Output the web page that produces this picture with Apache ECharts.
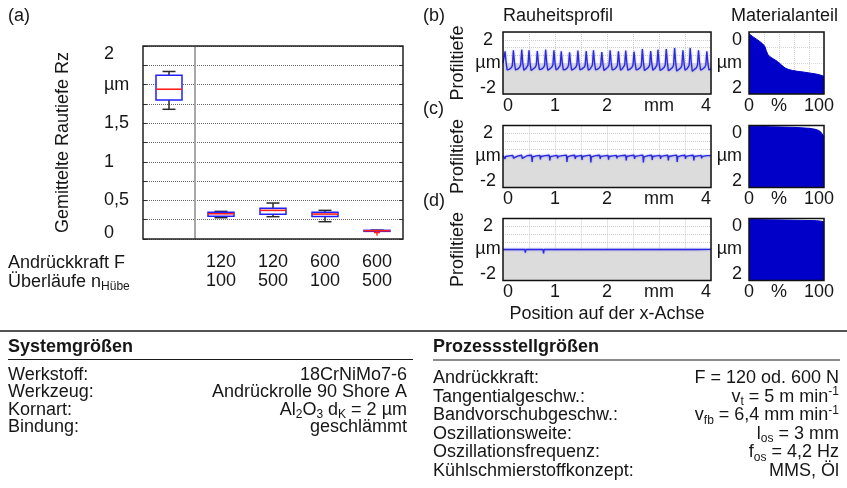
<!DOCTYPE html>
<html>
<head>
<meta charset="utf-8">
<script src="https://cdn.jsdelivr.net/npm/echarts@6/dist/echarts.min.js"></script>
<style>
html,body{margin:0;padding:0;background:#fff}
#chart{width:847px;height:488px}
</style>
</head>
<body>
<div id="chart"></div>
<script>
// ---- Rz box plot (a) ----
const groups   = ['Ausgang', 'F120 n100', 'F120 n500', 'F600 n100', 'F600 n500'];
const forceF   = ['', '120', '120', '600', '600'];
const strokesN = ['', '100', '500', '100', '500'];
const rzMin = [1.68, 0.276, 0.289, 0.224, 0.100];
const rzQ1  = [1.80, 0.294, 0.319, 0.293, 0.102];
const rzMed = [1.94, 0.327, 0.371, 0.323, 0.107];
const rzQ3  = [2.12, 0.345, 0.397, 0.345, 0.112];
const rzMax = [2.17, 0.358, 0.466, 0.371, 0.115];
const rzOutliers = [[4, 0.082]];
const rzTickText = {0: '{b|0}', 0.5: '0,5', 1: '1', 1.5: '1,5', 2: 'µm', 2.5: '{t|2}'};

// ---- roughness profiles (b)-(d), position in mm, height in µm ----
const profileStep = 0.02;
const profileB = [
  0.00,-0.12,0.75,0.02,-0.44,-0.47,-0.41,-0.37,-0.30,-0.16,
  0.82,0.05,-0.45,-0.43,-0.40,-0.38,-0.28,-0.12,0.86,0.04,
  -0.46,-0.42,-0.36,-0.31,-0.14,0.82,0.00,-0.48,-0.44,-0.39,
  -0.35,-0.27,-0.13,0.77,0.03,-0.43,-0.46,-0.40,-0.34,-0.29,
  -0.15,0.86,0.06,-0.47,-0.42,-0.38,-0.36,-0.26,-0.11,0.82,
  0.01,-0.45,-0.41,-0.35,-0.30,-0.15,0.75,0.02,-0.44,-0.47,
  -0.42,-0.37,-0.30,-0.14,0.69,-0.02,-0.46,-0.43,-0.39,-0.33,
  -0.27,-0.12,0.80,0.04,-0.45,-0.44,-0.38,-0.35,-0.28,-0.15,
  0.77,0.02,-0.47,-0.42,-0.37,-0.31,-0.13,0.82,0.05,-0.44,
  -0.46,-0.40,-0.36,-0.29,-0.14,0.71,0.00,-0.48,-0.43,-0.38,
  -0.34,-0.26,-0.12,0.82,0.03,-0.45,-0.44,-0.41,-0.36,-0.28,
  -0.15,0.75,0.01,-0.46,-0.42,-0.35,-0.30,-0.13,0.80,0.04,
  -0.47,-0.45,-0.40,-0.34,-0.27,-0.14,0.73,0.02,-0.44,-0.46,
  -0.41,-0.37,-0.29,-0.16,0.90,0.06,-0.49,-0.44,-0.39,-0.35,
  -0.27,-0.12,0.77,0.02,-0.46,-0.43,-0.36,-0.31,-0.14,0.86,
  0.05,-0.48,-0.45,-0.40,-0.35,-0.28,-0.13,0.90,0.07,-0.50,
  -0.46,-0.41,-0.36,-0.29,-0.15,0.97,0.08,-0.52,-0.47,-0.42,
  -0.37,-0.30,-0.14,0.82,0.03,-0.46,-0.43,-0.37,-0.32,-0.15,
  0.97,0.06,-0.53,-0.48,-0.42,-0.38,-0.30,-0.13,0.82,0.03,
  -0.47,-0.44,-0.39,-0.35,-0.28,-0.14,0.75,0.02,-0.45,-0.42,
  -0.38
];
const profileC = [
  [0,0.05],[0.03,0.06],[0.04,-0.15],[0.05,0.0],[0.12,0.04],[0.19,0.07],[0.20,-0.10],[0.21,0.01],
  [0.29,0.04],[0.36,0.08],[0.37,-0.12],[0.38,0.0],[0.46,0.05],[0.55,0.08],[0.56,-0.35],[0.57,-0.02],
  [0.64,0.04],[0.71,0.07],[0.72,-0.18],[0.73,0.0],[0.81,0.05],[0.89,0.08],[0.90,-0.25],[0.91,-0.01],
  [0.98,0.04],[1.04,0.07],[1.05,-0.12],[1.06,0.01],[1.14,0.05],[1.22,0.09],[1.23,-0.35],[1.24,-0.02],
  [1.31,0.05],[1.38,0.08],[1.39,-0.15],[1.40,0.0],[1.46,0.04],[1.51,0.07],[1.52,-0.22],[1.53,0.0],
  [1.61,0.05],[1.68,0.09],[1.69,-0.38],[1.70,-0.02],[1.78,0.05],[1.86,0.08],[1.87,-0.15],[1.88,0.01],
  [1.95,0.04],[2.02,0.07],[2.03,-0.20],[2.04,0.0],[2.11,0.04],[2.18,0.07],[2.19,-0.12],[2.20,0.01],
  [2.28,0.05],[2.36,0.08],[2.37,-0.25],[2.38,0.0],[2.45,0.05],[2.52,0.08],[2.53,-0.15],[2.54,0.01],
  [2.62,0.05],[2.69,0.09],[2.70,-0.38],[2.71,-0.02],[2.79,0.05],[2.86,0.08],[2.87,-0.22],[2.88,0.0],
  [2.95,0.04],[3.02,0.07],[3.03,-0.15],[3.04,0.01],[3.11,0.05],[3.17,0.08],[3.18,-0.25],[3.19,0.0],
  [3.27,0.05],[3.34,0.09],[3.35,-0.35],[3.36,-0.02],[3.43,0.05],[3.50,0.08],[3.51,-0.15],[3.52,0.01],
  [3.59,0.05],[3.66,0.08],[3.67,-0.25],[3.68,0.0],[3.75,0.04],[3.81,0.07],[3.82,-0.12],[3.83,0.01],
  [3.92,0.05],[4.0,0.06]
];
const profileD = [
  [0,0.0],[0.20,0.01],[0.42,0.0],[0.43,-0.20],[0.44,0.0],[0.77,0.01],[0.78,-0.25],[0.79,0.0],
  [1.20,0.01],[1.60,0.0],[1.62,-0.05],[1.64,0.0],[2.40,0.01],[3.00,0.0],[3.02,-0.06],[3.04,0.0],
  [3.70,0.01],[3.72,-0.05],[3.74,0.0],[4.0,0.01]
];
const profileXText = {0: '{l|0}', 1: '1', 2: '2', 3: 'mm', 4: '{r|4}'};
const profileYText = {2: '{t|2}', 0: 'µm', '-2': '{b|-2}'};

// ---- material ratio curves: [ratio %, depth µm] ----
const abbottB = [[0,0.06],[5,0.15],[10,0.23],[14,0.30],[18,0.38],[21,0.46],[23,0.60],[25,0.72],[28,0.80],
  [32,0.86],[38,0.95],[43,1.06],[48,1.16],[53,1.21],[58,1.24],[65,1.27],[72,1.29],[80,1.32],[88,1.35],[94,1.38],[100,1.43]];
const abbottC = [[0,0.02],[30,0.04],[60,0.06],[80,0.09],[88,0.12],[93,0.16],[96,0.22],[98,0.28],[100,0.36]];
const abbottD = [[0,0.03],[50,0.05],[90,0.07],[97,0.09],[100,0.11]];
const abbottXText = {0: '0', 40: '%', 100: '{r|100}'};
const abbottYText = {0: '{t|0}', 1: 'µm', 2: '{b|2}'};

// ---- parameter tables ----
const systemRows = [
  ['Werkstoff:', '18CrNiMo7-6'],
  ['Werkzeug:', 'Andrückrolle 90 Shore A'],
  ['Kornart:', '{n|Al}{s|2}{n|O}{s|3}{n| d}{s|K}{n| = 2 µm}'],
  ['Bindung:', 'geschlämmt']
];
const processRows = [
  ['Andrückkraft:', 'F = 120 od. 600 N'],
  ['Tangentialgeschw.:', '{n|v}{s|t}{n| = 5 m min}{p|-1}'],
  ['Bandvorschubgeschw.:', '{n|v}{s|fb}{n| = 6,4 mm min}{p|-1}'],
  ['Oszillationsweite:', '{n|l}{s|os}{n| = 3 mm}'],
  ['Oszillationsfrequenz:', '{n|f}{s|os}{n| = 4,2 Hz}'],
  ['Kühlschmierstoffkonzept:', 'MMS, Öl']
];

const FONT = "'Liberation Sans', Arial, Helvetica, sans-serif";
const INK = '#161616';
const FS = 18;

const richShift = {
  t: {fontSize: FS, fontFamily: FONT, color: INK, padding: [16, 0, 0, 0]},
  b: {fontSize: FS, fontFamily: FONT, color: INK, padding: [0, 0, 12, 0]},
  l: {fontSize: FS, fontFamily: FONT, color: INK, padding: [0, 0, 0, 10]},
  r: {fontSize: FS, fontFamily: FONT, color: INK, padding: [0, 10, 0, 0]}
};
const richRich = {
  n: {fontSize: FS, fontFamily: FONT, color: INK, lineHeight: 22},
  s: {fontSize: 12, fontFamily: FONT, color: INK, lineHeight: 12, verticalAlign: 'bottom'},
  p: {fontSize: 12, fontFamily: FONT, color: INK, lineHeight: 14, verticalAlign: 'top'}
};

const labelBase = {fontFamily: FONT, fontSize: FS, color: INK};
const nameStyle = {fontFamily: FONT, fontSize: FS, color: INK};

const profileGrids = [
  {left: 503, top: 32, width: 208, height: 62},
  {left: 503, top: 125.5, width: 208, height: 62},
  {left: 503, top: 218.5, width: 208, height: 62}
];
const abbottGrids = [
  {left: 749, top: 32, width: 75, height: 62},
  {left: 749, top: 125.5, width: 75, height: 62},
  {left: 749, top: 218.5, width: 75, height: 62}
];
const frame = {show: true, borderColor: '#111', borderWidth: 1.5, z: 10, outerBoundsMode: 'none', containLabel: false};

const grids = [
  Object.assign({left: 143, top: 46, width: 260, height: 193}, frame, {borderColor: '#222'}),
  ...profileGrids.map(g => Object.assign({}, g, frame)),
  ...abbottGrids.map(g => Object.assign({}, g, frame))
];

function lookup(map, v) {
  const k = Math.round(v * 1000) / 1000;
  return map[k] !== undefined ? map[k] : '';
}

const xAxes = [{
  type: 'category', gridIndex: 0, data: groups, boundaryGap: true,
  axisLine: {show: false}, axisTick: {show: false}, splitLine: {show: false},
  axisLabel: Object.assign({}, labelBase, {margin: 14, lineHeight: 19, interval: 0,
    formatter: (v, i) => forceF[i] + '\n' + strokesN[i]})
}];
const yAxes = [{
  type: 'value', gridIndex: 0, min: 0, max: 2.5, interval: 0.25,
  axisLine: {show: false},
  axisTick: {show: true, inside: true, length: 4, lineStyle: {color: '#333'}},
  splitLine: {show: true, lineStyle: {color: '#666', type: 'dotted', width: 1}},
  axisLabel: Object.assign({}, labelBase, {align: 'left', margin: 39, rich: richShift,
    formatter: v => lookup(rzTickText, v)}),
  name: 'Gemittelte Rautiefe Rz', nameLocation: 'middle', nameRotate: 90, nameGap: 71, nameTextStyle: nameStyle
}, {
  type: 'value', gridIndex: 0, min: 0, max: 2.5, interval: 0.25, position: 'right',
  axisLine: {show: false},
  axisTick: {show: true, inside: true, length: 4, lineStyle: {color: '#333'}},
  splitLine: {show: false}, axisLabel: {show: false}
}];

const series = [];

for (let k = 0; k < 3; k++) {
  const gp = 1 + k;
  xAxes.push({
    type: 'value', gridIndex: gp, min: 0, max: 4, interval: 0.5,
    axisLine: {show: false}, axisTick: {show: false},
    splitLine: {show: true, lineStyle: {color: '#cdcdcd', type: 'dotted', width: 1}},
    axisLabel: Object.assign({}, labelBase, {margin: 3, rich: richShift, formatter: v => lookup(profileXText, v)}),
    name: k === 2 ? 'Position auf der x-Achse' : '', nameLocation: 'middle', nameGap: 25, nameTextStyle: nameStyle
  });
  yAxes.push({
    type: 'value', gridIndex: gp, min: -2, max: 2, interval: 0.5,
    axisLine: {show: false}, axisTick: {show: false},
    splitLine: {show: true, lineStyle: {color: '#cdcdcd', type: 'dotted', width: 1}},
    axisLabel: Object.assign({}, labelBase, {align: 'center', margin: 15, rich: richShift, formatter: v => lookup(profileYText, v)}),
    name: 'Profiltiefe', nameLocation: 'middle', nameRotate: 90, nameGap: 36, nameTextStyle: nameStyle
  });
}
for (let k = 0; k < 3; k++) {
  const ga = 4 + k;
  xAxes.push({
    type: 'value', gridIndex: ga, min: 0, max: 100, interval: 20,
    axisLine: {show: false}, axisTick: {show: false},
    splitLine: {show: true, lineStyle: {color: '#d6d6d6', type: 'dotted', width: 1}},
    axisLabel: Object.assign({}, labelBase, {margin: 3, rich: richShift, formatter: v => lookup(abbottXText, v)})
  });
  yAxes.push({
    type: 'value', gridIndex: ga, min: 0, max: 2, interval: 0.5, inverse: true,
    axisLine: {show: false}, axisTick: {show: false},
    splitLine: {show: true, lineStyle: {color: '#d6d6d6', type: 'dotted', width: 1}},
    axisLabel: Object.assign({}, labelBase, {align: 'right', margin: 7, rich: richShift, formatter: v => lookup(abbottYText, v)})
  });
}

// box plot drawn through the category / value scales of grid 0
function renderBox(params, api) {
  const i = api.value(0);
  const band = api.size([1, 0])[0];
  const half = band * 0.25, cap = band * 0.125;
  const cx = api.coord([i, 0])[0];
  const y = k => api.coord([i, api.value(k)])[1];
  const yMin = y(1), yQ1 = y(2), yMed = y(3), yQ3 = y(4), yMax = y(5);
  const wh = {stroke: '#2a2a2a', lineWidth: 1.5};
  const children = [];
  if (params.dataIndex === 0) {
    const cs = params.coordSys;
    const sx = cx + band / 2;
    children.push({type: 'line', shape: {x1: sx, y1: cs.y, x2: sx, y2: cs.y + cs.height},
      style: {stroke: '#a8a8a8', lineWidth: 2}});
  }
  children.push(
    {type: 'line', shape: {x1: cx, y1: yQ1, x2: cx, y2: yMin}, style: wh},
    {type: 'line', shape: {x1: cx - cap, y1: yMin, x2: cx + cap, y2: yMin}, style: wh},
    {type: 'line', shape: {x1: cx, y1: yQ3, x2: cx, y2: yMax}, style: wh},
    {type: 'line', shape: {x1: cx - cap, y1: yMax, x2: cx + cap, y2: yMax}, style: wh},
    {type: 'rect', shape: {x: cx - half, y: yQ3, width: 2 * half, height: Math.max(yQ1 - yQ3, 1)},
      style: {fill: '#fff', stroke: '#2020ff', lineWidth: 1.5}},
    {type: 'line', shape: {x1: cx - half, y1: yMed, x2: cx + half, y2: yMed}, style: {stroke: '#ff1e1e', lineWidth: 1.6}}
  );
  return {type: 'group', children};
}
function renderOutlier(params, api) {
  const p = api.coord([api.value(0), api.value(1)]);
  const s = 3;
  const st = {stroke: '#ff1e1e', lineWidth: 1.3};
  return {type: 'group', children: [
    {type: 'line', shape: {x1: p[0] - s, y1: p[1], x2: p[0] + s, y2: p[1]}, style: st},
    {type: 'line', shape: {x1: p[0], y1: p[1] - s, x2: p[0], y2: p[1] + s}, style: st}
  ]};
}

series.push({
  type: 'custom', name: 'Rz', xAxisIndex: 0, yAxisIndex: 0, renderItem: renderBox, z: 5,
  encode: {x: 0, y: [1, 2, 3, 4, 5]},
  data: groups.map((g, i) => [i, rzMin[i], rzQ1[i], rzMed[i], rzQ3[i], rzMax[i]])
});
series.push({
  type: 'custom', name: 'Ausreißer', xAxisIndex: 0, yAxisIndex: 0, renderItem: renderOutlier, z: 6,
  encode: {x: 0, y: 1}, data: rzOutliers
});

const profiles = [profileB.map((v, i) => [i * profileStep, v]), profileC, profileD];
const abbotts = [abbottB, abbottC, abbottD];
profiles.forEach((d, k) => {
  series.push({
    type: 'line', xAxisIndex: 1 + k, yAxisIndex: 2 + k, data: d, symbol: 'none', silent: true,
    lineStyle: {color: '#2a2ad8', width: 1.3, shadowBlur: 2, shadowColor: 'rgba(90,90,255,0.7)'}, z: 4,
    markArea: {silent: true, itemStyle: {color: '#dcdcdc'}, data: [[{yAxis: -2}, {yAxis: 0}]]}
  });
});
abbotts.forEach((d, k) => {
  series.push({
    type: 'line', xAxisIndex: 4 + k, yAxisIndex: 5 + k, data: d, symbol: 'none', silent: true,
    lineStyle: {color: '#0000c8', width: 1}, z: 4,
    areaStyle: {color: '#0000c8', opacity: 1, origin: 'end'}
  });
});

// text and rules around the panels
function txt(x, y, text, extra) {
  return {type: 'text', x, y, silent: true, z: 20,
    style: Object.assign({text, fontFamily: FONT, fontSize: FS, fill: INK, align: 'left', verticalAlign: 'middle', rich: richRich}, extra || {})};
}
function rule(x1, y1, x2, w) {
  return {type: 'line', silent: true, z: 20, shape: {x1, y1, x2, y2: y1}, style: {stroke: '#1a1a1a', lineWidth: w || 1.2}};
}
const graphics = [
  txt(8, 16, '(a)'), txt(423, 16, '(b)'), txt(423, 109, '(c)'), txt(423, 201, '(d)'),
  txt(503, 16, 'Rauheitsprofil'), txt(731, 16, 'Materialanteil'),
  txt(8, 263, 'Andrückkraft F'), txt(8, 282, '{n|Überläufe n}{s|Hübe}'),
  rule(0, 331, 847, 1.3),
  txt(8, 347, 'Systemgrößen', {fontWeight: 'bold'}), rule(8, 359.5, 413, 1),
  txt(433, 347, 'Prozessstellgrößen', {fontWeight: 'bold'}), rule(433, 360, 840, 1)
];
systemRows.forEach((r, i) => {
  const yy = 375 + i * 17.4;
  graphics.push(txt(8, yy, r[0]), txt(407, yy, r[1], {align: 'right'}));
});
processRows.forEach((r, i) => {
  const yy = 378.3 + i * 18.55;
  graphics.push(txt(433, yy, r[0]), txt(839, yy, r[1], {align: 'right'}));
});

const chart = echarts.init(document.getElementById('chart'), null, {renderer: 'canvas'});
chart.setOption({
  animation: false,
  backgroundColor: '#ffffff',
  textStyle: {fontFamily: FONT},
  grid: grids,
  xAxis: xAxes,
  yAxis: yAxes,
  series,
  graphic: {elements: graphics}
});
</script>
</body>
</html>
